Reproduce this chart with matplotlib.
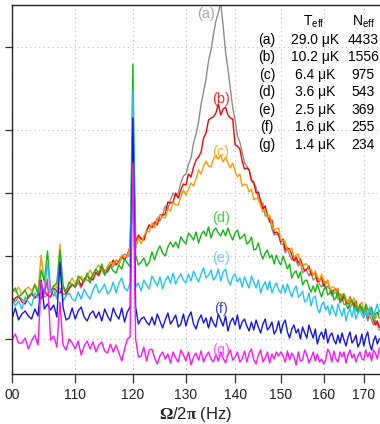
import numpy as np
import matplotlib
matplotlib.use('Agg')
import matplotlib.pyplot as plt
from matplotlib.ticker import NullLocator

plt.rcParams['font.family'] = ['Liberation Sans', 'DejaVu Sans']
plt.rcParams['mathtext.fontset'] = 'custom'
plt.rcParams['mathtext.rm'] = 'Liberation Sans'
plt.rcParams['mathtext.it'] = 'Liberation Sans:italic'
plt.rcParams['mathtext.bf'] = 'Liberation Serif:bold'

#--------------spectra (arb. units, 0.5 Hz steps from 100 to 174 Hz)-------------
freq = np.arange(100, 174.01, 0.5)

psd_a = [77, 72, 77, 75, 72, 78, 81, 76, 78, 82,
         77, 79, 84, 78, 83, 86, 80, 79, 85, 89,
         87, 91, 86, 95, 94, 92, 101, 100, 98, 105,
         99, 106, 109, 107, 114, 110, 116, 120, 118, 118,
         230, 126, 136, 136, 134, 143, 149, 146, 150, 156,
         153, 159, 168, 165, 174, 181, 178, 181, 191, 198,
         200, 210, 216, 231, 240, 252, 270, 282, 295, 313,
         324, 339, 353, 361, 372, 348, 322, 305, 285, 266,
         254, 238, 232, 222, 211, 208, 204, 193, 190, 187,
         175, 171, 171, 158, 158, 156, 145, 139, 140, 138,
         130, 130, 121, 125, 119, 114, 118, 113, 108, 111,
         101, 104, 103, 98, 102, 94, 96, 96, 90, 87,
         90, 85, 88, 84, 78, 81, 82, 75, 75, 77,
         69, 70, 74, 66, 70, 72, 64, 61, 64, 65,
         59, 61, 53, 59, 54, 49, 54, 49, 44]

psd_b = [71, 76, 78, 72, 70, 77, 80, 76, 80, 75,
         83, 79, 77, 86, 83, 81, 87, 80, 86, 90,
         87, 95, 88, 95, 98, 96, 94, 102, 99, 107,
         103, 102, 108, 114, 109, 113, 118, 114, 119, 127,
         237, 132, 139, 135, 134, 143, 149, 147, 152, 149,
         159, 159, 160, 172, 171, 172, 181, 176, 184, 190,
         189, 200, 197, 207, 214, 217, 222, 236, 241, 254,
         256, 257, 261, 270, 259, 265, 267, 259, 256, 255,
         229, 228, 225, 213, 205, 206, 204, 194, 192, 181,
         182, 173, 165, 168, 159, 152, 154, 141, 142, 140,
         132, 135, 124, 126, 125, 119, 113, 117, 111, 115,
         108, 103, 105, 108, 99, 100, 101, 92, 93, 97,
         88, 92, 93, 85, 80, 84, 85, 79, 80, 73,
         78, 73, 70, 77, 72, 68, 73, 63, 66, 67,
         61, 66, 56, 60, 60, 54, 49, 53, 47]

psd_c = [85, 82, 87, 79, 84, 87, 83, 90, 83, 119,
         91, 86, 82, 89, 86, 130, 85, 84, 90, 96,
         90, 94, 98, 93, 97, 104, 98, 105, 109, 103,
         101, 108, 112, 109, 114, 110, 119, 117, 117, 128,
         250, 127, 136, 130, 138, 143, 142, 151, 146, 154,
         159, 157, 156, 165, 163, 172, 169, 169, 177, 184,
         179, 185, 191, 188, 195, 204, 200, 208, 213, 208,
         207, 215, 219, 215, 219, 212, 217, 211, 206, 211,
         203, 197, 200, 188, 190, 189, 182, 185, 174, 176,
         175, 168, 162, 164, 156, 159, 150, 144, 145, 146,
         134, 133, 133, 123, 123, 126, 116, 119, 120, 111,
         106, 110, 110, 104, 105, 98, 103, 97, 93, 100,
         94, 90, 94, 84, 87, 87, 81, 86, 76, 80,
         80, 75, 71, 76, 71, 76, 70, 66, 69, 72,
         63, 64, 65, 57, 58, 62, 55, 60, 63]

psd_d = [82, 86, 77, 80, 84, 76, 80, 89, 80, 104,
         93, 123, 82, 88, 91, 124, 89, 82, 92, 89,
         87, 98, 95, 92, 101, 91, 100, 105, 101, 110,
         99, 105, 108, 103, 101, 109, 105, 115, 111, 107,
         310, 119, 109, 112, 116, 108, 112, 122, 114, 123,
         128, 121, 118, 127, 132, 127, 132, 126, 137, 133,
         130, 141, 138, 134, 142, 131, 139, 143, 138, 147,
         136, 143, 146, 141, 138, 144, 138, 146, 139, 134,
         141, 144, 135, 137, 140, 130, 132, 137, 124, 125,
         131, 121, 115, 121, 124, 116, 119, 110, 119, 113,
         109, 118, 112, 105, 110, 96, 101, 103, 96, 102,
         89, 93, 94, 87, 82, 88, 82, 90, 83, 77,
         84, 88, 79, 81, 84, 74, 76, 83, 71, 77,
         80, 70, 65, 71, 74, 66, 69, 61, 70, 64,
         60, 70, 65, 60, 67, 54, 60, 62, 56]

psd_e = [75, 68, 73, 65, 77, 72, 68, 81, 76, 80,
         83, 111, 82, 84, 75, 112, 73, 78, 81, 75,
         73, 82, 75, 85, 79, 75, 84, 90, 81, 85,
         90, 80, 83, 92, 81, 91, 96, 86, 83, 91,
         284, 87, 91, 83, 94, 89, 85, 98, 93, 88,
         97, 85, 93, 98, 91, 101, 90, 96, 100, 94,
         91, 100, 93, 103, 97, 92, 100, 106, 96, 99,
         104, 94, 97, 105, 93, 102, 105, 94, 89, 97,
         100, 92, 96, 87, 97, 91, 86, 98, 92, 86,
         94, 81, 88, 92, 84, 93, 81, 87, 91, 84,
         81, 89, 81, 90, 83, 77, 84, 88, 77, 79,
         83, 72, 74, 81, 68, 76, 78, 66, 61, 69,
         72, 64, 68, 59, 69, 63, 58, 70, 64, 58,
         66, 53, 61, 65, 57, 66, 55, 61, 65, 59,
         56, 64, 57, 67, 61, 56, 64, 70, 60]

psd_f = [55, 66, 54, 60, 63, 58, 55, 65, 58, 94,
         65, 70, 64, 69, 57, 112, 67, 54, 56, 66,
         55, 63, 67, 57, 53, 60, 63, 56, 62, 53,
         65, 58, 53, 66, 59, 55, 66, 52, 62, 67,
         256, 67, 50, 55, 57, 52, 49, 57, 49, 60,
         53, 46, 54, 61, 50, 54, 59, 47, 50, 60,
         48, 57, 62, 50, 45, 54, 59, 51, 56, 46,
         57, 51, 47, 60, 54, 48, 58, 43, 52, 56,
         49, 59, 45, 52, 55, 48, 43, 52, 44, 54,
         47, 41, 50, 55, 44, 47, 52, 40, 44, 53,
         41, 50, 54, 42, 36, 45, 49, 41, 45, 35,
         47, 41, 36, 49, 42, 36, 45, 30, 38, 42,
         35, 45, 31, 38, 41, 34, 30, 39, 31, 41,
         34, 28, 37, 42, 31, 34, 39, 27, 31, 40,
         28, 37, 42, 30, 24, 33, 38, 30, 35]

psd_g = [34, 40, 31, 31, 36, 25, 33, 39, 29, 92,
         80, 95, 34, 38, 27, 72, 29, 24, 35, 31,
         25, 33, 19, 28, 33, 25, 32, 22, 29, 32,
         23, 21, 30, 22, 29, 21, 13, 25, 35, 37,
         211, 35, 17, 18, 27, 13, 24, 25, 16, 10,
         18, 22, 15, 20, 11, 22, 16, 12, 24, 19,
         13, 22, 9, 17, 21, 14, 23, 12, 18, 22,
         15, 12, 20, 13, 22, 16, 11, 19, 24, 14,
         17, 22, 12, 15, 23, 12, 21, 25, 14, 10,
         19, 24, 12, 16, 22, 11, 20, 15, 22, 18,
         22, 18, 12, 23, 14, 21, 17, 9, 22, 13,
         14, 24, 19, 11, 16, 22, 13, 20, 12, 15,
         10, 14, 25, 21, 12, 23, 15, 12, 22, 17,
         22, 11, 19, 24, 16, 20, 12, 18, 22, 15,
         14, 24, 17, 22, 13, 24, 21, 15, 26]

curve_names = ['(a)', '(b)', '(c)', '(d)', '(e)', '(f)', '(g)']
line_colors = ['#8c8c8c', '#ff0000', '#ff9a00', '#14b814', '#22c4f4', '#1414f0', '#ff14ff']
label_colors = ['#a8a8a8', '#ff2a2a', '#ffad33', '#4ccc4c', '#6ccffa', '#3a46e0', '#ff5cff']
label_freq = [134.0, 137.0, 137.0, 137.0, 137.0, 137.0, 137.0]
label_level = [360, 275, 222, 156, 116, 65, 24]

T_eff = ['29.0 μK', '10.2 μK', '6.4 μK', '3.6 μK', '2.5 μK', '1.6 μK', '1.4 μK']
N_eff = ['4433', '1556', '975', '543', '369', '255', '234']

xticks = [100, 110, 120, 130, 140, 150, 160, 170]
xticklabels = ['00', '110', '120', '130', '140', '150', '160', '170']
yticks = [35, 118, 181, 244, 327]

#--------------------draw---------------------
fig = plt.figure(figsize=(3.8, 4.24), dpi=100)
ax = fig.add_axes([12/380, 50/424, 368/380, 369/424])

series = [psd_a, psd_b, psd_c, psd_d, psd_e, psd_f, psd_g]
for y, c in zip(series, line_colors):
    ax.plot(freq, y, color=c, lw=1.0)

ax.set_xscale('log')
ax.set_xlim(100, 174.2)
ax.set_ylim(0, 369)
ax.set_xticks(xticks)
ax.set_xticklabels(xticklabels)
ax.xaxis.set_minor_locator(NullLocator())
ax.set_yticks(yticks)
ax.set_yticklabels([])
ax.yaxis.set_minor_locator(NullLocator())
ax.tick_params(axis='x', direction='out', length=6.5, width=0.9, pad=3.5,
               labelsize=10, color='#333333', labelcolor='#222222')
ax.tick_params(axis='y', direction='out', length=5, width=0.9, color='#333333')
ax.grid(True, color='#bdbdbd', lw=0.8, linestyle=(0, (1, 3)))
for s in ['left', 'bottom', 'top']:
    ax.spines[s].set_linewidth(1.0)
    ax.spines[s].set_color('#222222')
ax.spines['right'].set_visible(False)

ax.set_xlabel(r'$\mathbf{\Omega}$/2$\mathbf{\pi}$ (Hz)', fontsize=12, labelpad=2,
              color='#222222')

for name, c, fx, lv in zip(curve_names, label_colors, label_freq, label_level):
    ax.text(fx, lv, name, color=c, fontsize=10.5, ha='center', va='center')

# table of T_eff and N_eff
fig.text(314/380, 1 - 22/424, r'T$_{\mathrm{eff}}$', fontsize=10, ha='center', va='center')
fig.text(364/380, 1 - 22/424, r'N$_{\mathrm{eff}}$', fontsize=10, ha='center', va='center')
row_y = [40, 57, 75, 92, 110, 127, 145]
for name, t, n, py in zip(curve_names, T_eff, N_eff, row_y):
    fig.text(267/380, 1 - py/424, name, fontsize=10, ha='center', va='center')
    fig.text(315/380, 1 - py/424, t, fontsize=10, ha='center', va='center')
    fig.text(363/380, 1 - py/424, n, fontsize=10, ha='center', va='center')

fig.savefig('out.png', dpi=100)
